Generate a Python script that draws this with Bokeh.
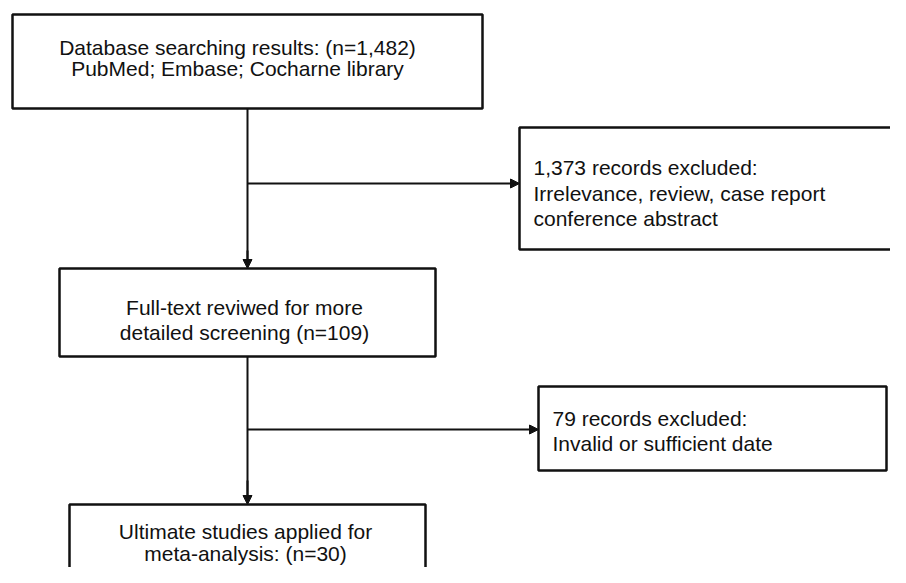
from bokeh.plotting import figure
from bokeh.models import Range1d, Arrow, NormalHead, ColumnDataSource
from bokeh.core.properties import value
from bokeh.embed import file_html
from bokeh.resources import INLINE

# ---- data (texts of the flow chart) ----
n_searched = 1482
n_excluded_1 = 1373
n_fulltext = 109
n_excluded_2 = 79
n_included = 30

box1_lines = ["Database searching results: (n=1,482)", "PubMed; Embase; Cocharne library"]
box2_lines = ["1,373 records excluded:", "Irrelevance, review, case report", "conference abstract"]
box3_lines = ["Full-text reviwed for more", "detailed screening (n=109)"]
box4_lines = ["79 records excluded:", "Invalid or sufficient date"]
box5_lines = ["Ultimate studies applied for", "meta-analysis: (n=30)"]

# ---- layout (pixel space of the picture) ----
W, H = 890, 567
p = figure(width=W, height=H, output_backend="svg", toolbar_location=None,
           x_range=Range1d(0, W), y_range=Range1d(H, 0),
           min_border=0, outline_line_color=None, background_fill_color="white",
           border_fill_color="white")
p.axis.visible = False
p.xgrid.visible = False
p.ygrid.visible = False

FONT = value("Liberation Sans")
FS = "21px"
INK = "#111111"
CX = 247  # main column axis

# boxes: left, top, right, bottom
boxes = [
    (12, 14, 482, 108),
    (519, 127, 930, 249),
    (59, 268, 435, 356),
    (538, 386, 886, 470),
    (69, 504, 425, 620),
]
src = ColumnDataSource(dict(
    left=[b[0] for b in boxes], top=[b[1] for b in boxes],
    right=[b[2] for b in boxes], bottom=[b[3] for b in boxes]))
p.quad(left="left", right="right", top="top", bottom="bottom", source=src,
       fill_color="white", line_color=INK, line_width=2.5)

# connectors
LW = 2
def arrow(x0, y0, x1, y1):
    p.add_layout(Arrow(end=NormalHead(size=9, fill_color=INK, line_color=INK),
                       x_start=x0, y_start=y0, x_end=x1, y_end=y1,
                       line_color=INK, line_width=LW))

p.line([CX, CX], [108, 262], line_color=INK, line_width=LW)
arrow(CX, 250, CX, 268)
arrow(CX, 183, 519, 183)
p.line([CX, CX], [356, 498], line_color=INK, line_width=LW)
arrow(CX, 480, CX, 504)
arrow(CX, 429, 538, 429)

def put(lines, x, y0, dy, align):
    p.text(x=[x] * len(lines), y=[y0 + i * dy for i in range(len(lines))], text=lines,
           text_align=align, text_baseline="alphabetic", text_font=FONT,
           text_font_size=FS, text_color=INK)

put(box1_lines, 237, 47, 21, "center")
put(box2_lines, 533, 167, 25.5, "left")
put(box3_lines, 244, 307, 25, "center")
put(box4_lines, 552, 418, 25, "left")
put(box5_lines, 245, 531, 22, "center")

open("out.html", "w").write(file_html(p, INLINE))
